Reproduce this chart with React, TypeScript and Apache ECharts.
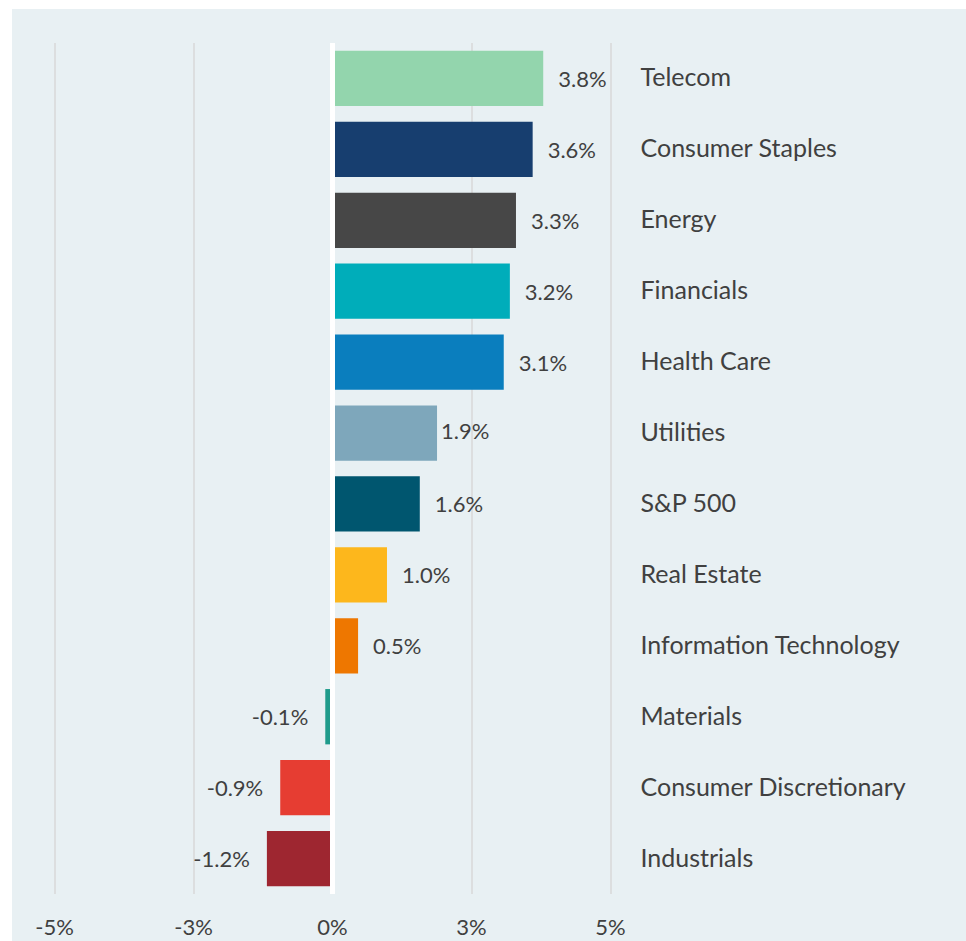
import React, { useEffect, useRef } from "react";
import * as echarts from "echarts";

const categories = [
  "Telecom",
  "Consumer Staples",
  "Energy",
  "Financials",
  "Health Care",
  "Utilities",
  "S&P 500",
  "Real Estate",
  "Information Technology",
  "Materials",
  "Consumer Discretionary",
  "Industrials",
];

const values = [3.79, 3.6, 3.3, 3.19, 3.08, 1.88, 1.57, 0.98, 0.46, -0.13, -0.94, -1.18];

const barColors = [
  "#93D5AD",
  "#173E6F",
  "#474747",
  "#00ADBA",
  "#0A7EBE",
  "#7EA7BB",
  "#00566F",
  "#FDB71C",
  "#EE7700",
  "#1F9B8B",
  "#E63D32",
  "#9E2630",
];

const xTickLabels = ["-5%", "-3%", "0%", "3%", "5%"];

const FONT = "Lato";
const TEXT = "#404040";

export default function App() {
  const ref = useRef<HTMLDivElement>(null);

  useEffect(() => {
    if (!ref.current) return;
    const chart = echarts.init(ref.current, null, { renderer: "svg" });
    chart.setOption({
      animation: false,
      backgroundColor: "#E8F0F3",
      grid: { left: 42.5, right: 355.5, top: 34, bottom: 47, containLabel: false },
      xAxis: {
        type: "value",
        min: -5,
        max: 5,
        interval: 2.5,
        axisLine: { show: false },
        axisTick: { show: false },
        splitLine: { show: true, lineStyle: { color: "#D9D9D9", width: 1.5 } },
        axisLabel: {
          formatter: (_v: number, i: number) => xTickLabels[i],
          color: TEXT,
          fontSize: 22,
          fontFamily: FONT,
          margin: 21,
        },
      },
      yAxis: {
        type: "category",
        data: categories,
        inverse: true,
        position: "right",
        axisLine: { show: false },
        axisTick: { show: false },
        splitLine: { show: false },
        axisLabel: {
          align: "left",
          verticalAlign: "bottom",
          lineHeight: 4,
          margin: 30,
          color: TEXT,
          fontSize: 25,
          fontFamily: FONT,
        },
      },
      series: [
        {
          type: "bar",
          barCategoryGap: "22%",
          data: values.map((v, i) => ({
            value: v,
            itemStyle: { color: barColors[i] },
            label:
              v < 0
                ? { position: "left", distance: 17 }
                : categories[i] === "Utilities"
                ? { position: "right", distance: 4, offset: [0, -3] }
                : { position: "right", distance: 15 },
          })),
          label: {
            show: true,
            formatter: (p: any) => p.value.toFixed(1) + "%",
            color: TEXT,
            fontSize: 22,
            fontFamily: FONT,
          },
          markLine: {
            silent: true,
            symbol: ["none", "none"],
            label: { show: false },
            lineStyle: { color: "#FFFFFF", width: 5, type: "solid" },
            data: [{ xAxis: 0 }],
          },
        },
      ],
    });
    return () => chart.dispose();
  }, []);

  return (
    <div
      ref={ref}
      style={{ position: "absolute", left: 12, top: 9, width: 954, height: 932 }}
    />
  );
}
